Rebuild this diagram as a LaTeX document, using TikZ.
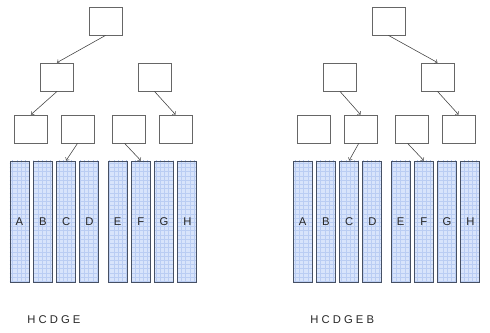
\documentclass[tikz,border=0pt]{standalone}
\usepackage{fontspec}
\setmainfont{Liberation Sans}
\usetikzlibrary{patterns}

\definecolor{colfill}{RGB}{216,228,251}
\definecolor{colgrid}{RGB}{186,205,243}
\definecolor{coledge}{RGB}{70,80,100}

\tikzset{
  treebox/.style={draw=black!60, line width=0.6pt, minimum width=0.825cm, minimum height=0.7cm, inner sep=0pt},
  column/.style={draw=coledge, line width=0.6pt, preaction={fill=colfill}, pattern=grid, pattern color=colgrid, minimum width=0.475cm, minimum height=3.025cm, inner sep=0pt},
  link/.style={->, draw=black!75, line width=0.4pt},
}

\begin{document}
\begin{tikzpicture}[x=0.025cm, y=-0.025cm, every node/.style={font=\fontsize{8}{9}\selectfont, text=black!85}]
\useasboundingbox (0,0) rectangle (490,332);

% Two copies of the tree with the columns below
\foreach \p/\dx in {l/0, r/283} {
  \begin{scope}[xshift=\dx*0.025cm]
    \node[treebox] (\p top) at (105.5,21) {};
    \node[treebox] (\p L) at (57,77) {};
    \node[treebox] (\p R) at (154.5,77) {};
    \node[treebox] (\p LL) at (31,129) {};
    \node[treebox] (\p LR) at (77.5,129) {};
    \node[treebox] (\p RL) at (128.5,129) {};
    \node[treebox] (\p RR) at (175.5,129) {};
    \foreach \name/\cx in {A/19.5, B/42.8, C/66.1, D/89.4, E/117.5, F/140.8, G/164.1, H/187.4}
      \node[column] (\p\name) at (\cx,221.5) {\name};
  \end{scope}
}

% Links, left tree
\draw[link] (ltop.south) -- (lL.north);
\draw[link] (lL.south) -- (lLL.north);
\draw[link] (lR.south) -- (lRR.north);
\draw[link] (lLR.south) -- (lC.north);
\draw[link] (lRL.-105) -- (lF.north);

% Links, right tree
\draw[link] (rtop.south) -- (rR.north);
\draw[link] (rL.south) -- (rLR.north);
\draw[link] (rR.south) -- (rRR.north);
\draw[link] (rLR.-97) -- (rC.north);
\draw[link] (rRL.-105) -- (rF.north);

% Visiting order
\node[anchor=west, inner sep=0pt] (lorder) at (27,320) {H C D G E};
\node[anchor=west, inner sep=0pt] (rorder) at (310,320) {H C D G E B};
\end{tikzpicture}
\end{document}
